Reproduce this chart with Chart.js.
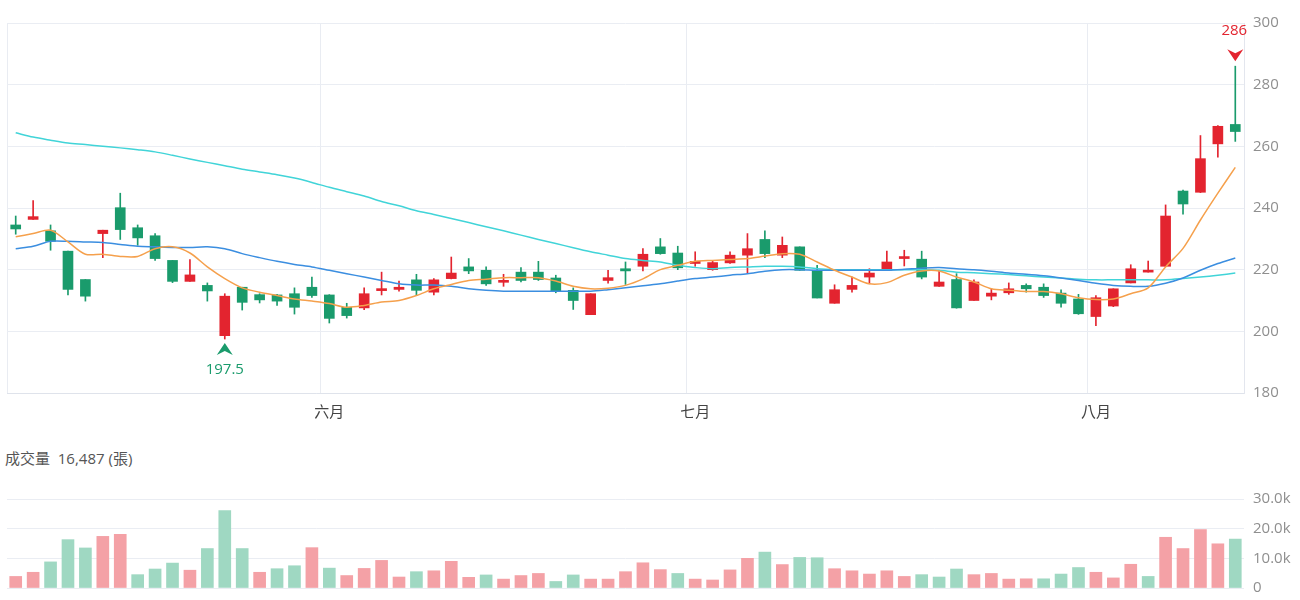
<!DOCTYPE html>
<html><head><meta charset="utf-8">
<script src="https://cdn.jsdelivr.net/npm/chart.js@4.4.1/dist/chart.umd.min.js"></script>
<style>
html,body{margin:0;padding:0;background:#fff;width:1300px;height:600px;overflow:hidden;}
#wrap{position:relative;width:1300px;height:600px;overflow:hidden;}
#c1{position:absolute;left:0;top:0;}
#c2{position:absolute;left:0;top:440px;}
#volTitle{position:absolute;left:5px;top:447px;font:15px "Open Sans","Noto Sans CJK TC",sans-serif;color:#555;white-space:pre;}
</style></head>
<body><div id="wrap"><canvas id="c1" width="1300" height="430"></canvas><div id="volTitle"></div><canvas id="c2" width="1300" height="166"></canvas></div>
<script>
const dates = ['05/08','05/09','05/10','05/11','05/12','05/15','05/16','05/17','05/18','05/19','05/22','05/23','05/24','05/25','05/26','05/29','05/30','05/31',
'06/01','06/02','06/05','06/06','06/07','06/08','06/09','06/12','06/13','06/14','06/15','06/16','06/19','06/20','06/21','06/22','06/26','06/27','06/28','06/29','06/30',
'07/01','07/02','07/03','07/04','07/05','07/08','07/09','07/10','07/11','07/12','07/15','07/16','07/17','07/18','07/19','07/22','07/23','07/24','07/25','07/26','07/29','07/30','07/31',
'08/01','08/02','08/05','08/06','08/07','08/08','08/09','08/12','08/13'];
const monthNames = {'05':'五月','06':'六月','07':'七月','08':'八月'};
const opens = [234.5,236.3,232.6,226.0,216.8,231.7,240.1,233.6,231.0,223.0,
216.2,214.9,198.6,214.3,211.9,211.8,212.2,214.3,211.8,207.8,
207.6,213.2,213.6,216.7,212.7,217.1,220.9,219.8,215.9,219.2,
219.2,217.3,213.3,205.4,216.5,220.3,221.1,227.4,225.4,222.0,
220.0,222.2,224.7,229.8,224.7,227.4,219.8,209.1,213.6,217.6,
219.8,223.6,223.4,214.6,216.8,210.0,211.4,212.5,214.9,214.3,
212.4,210.5,204.8,208.2,215.7,219.2,221.1,245.5,245.1,260.8,267.1];
const highs = [237.4,242.4,234.5,226.0,216.8,232.8,244.8,234.5,231.7,223.0,
223.3,215.7,212.2,214.3,212.2,212.0,214.1,217.6,211.9,209.1,
214.1,219.2,216.3,218.5,217.1,224.1,223.6,220.9,218.5,220.7,
222.7,218.2,214.1,212.2,219.8,222.5,226.8,230.1,227.6,225.8,
223.0,225.8,231.7,232.6,230.6,227.4,221.4,215.1,217.6,220.3,
226.0,226.3,226.0,219.6,218.7,216.7,213.8,215.7,215.4,215.4,
213.5,212.0,211.6,213.8,221.6,222.8,241.0,245.8,263.5,266.7,286];
const lows = [231.5,236.3,226.3,211.8,209.8,223.9,229.8,227.9,223.0,215.8,
216.2,209.8,197.5,206.9,209.2,208.4,205.6,211.0,202.7,204.3,
207.0,211.8,213.0,211.6,211.8,217.0,218.7,214.9,214.6,216.0,
216.5,212.5,207.1,205.4,215.6,215.2,219.6,225.0,220.0,221.1,
219.8,222.0,218.9,223.9,223.9,219.8,210.8,209.1,212.7,215.4,
219.8,221.2,217.0,214.6,207.5,210.0,210.2,212.0,212.7,211.0,
207.8,205.5,201.8,208.0,215.7,219.2,221.0,238.0,245.0,256.5,261.6];
const closes = [233.2,237.2,229.2,213.6,211.4,232.8,233.0,230.3,223.6,216.2,
218.3,213.1,211.4,209.4,210.2,209.8,207.8,211.6,204.2,205.1,
212.2,213.8,214.3,213.3,216.7,218.9,219.6,215.4,216.5,216.5,
216.8,212.9,210.0,212.2,217.4,219.6,225.0,225.2,220.6,222.7,
222.3,224.7,226.8,225.2,227.9,219.8,210.8,213.5,214.9,218.9,
222.5,223.9,217.6,216.0,207.6,216.0,212.4,213.8,213.8,211.6,
209.1,205.7,210.9,213.8,220.3,219.7,237.4,241.3,256.0,266.5,264.8];
const ma5 = [230.7,231.7,232.8,229.0,225.0,225.0,224.3,224.3,226.8,227.4,
225.4,220.9,217.1,214.1,212.7,211.6,210.5,209.8,209.0,207.8,
208.4,209.5,210.0,211.6,213.8,215.2,216.5,216.9,217.4,217.4,
217.4,216.3,214.6,213.8,214.0,214.9,217.0,220.0,221.4,222.7,
223.0,223.3,223.6,224.4,225.2,225.0,222.5,219.8,217.6,215.4,
215.8,218.2,219.6,219.6,217.6,216.0,213.8,213.3,212.9,212.9,
212.2,210.9,210.3,210.5,212.2,214.1,220.9,226.9,236.1,244.8,253.2];
const ma20 = [226.8,227.6,229.2,229.2,229.0,228.8,228.2,227.6,227.4,227.2,
227.2,227.4,226.8,225.2,223.9,222.7,221.7,220.9,219.8,218.7,
217.6,216.5,215.4,215.0,215.0,214.6,213.8,213.3,213.0,213.0,
213.0,213.0,213.0,213.0,213.5,214.1,214.8,215.4,216.3,217.1,
217.6,218.2,218.7,219.5,220.0,220.0,219.8,219.8,219.8,219.8,
219.8,220.1,220.5,220.7,220.3,220.0,219.5,218.9,218.5,218.0,
217.3,216.5,215.6,214.9,214.6,214.6,215.6,217.3,219.8,222.0,223.8];
const ma60 = [264.4,263.0,262.0,261.1,260.6,260.0,259.5,258.9,258.2,257.1,
255.9,254.8,253.7,252.6,251.7,250.8,249.7,248.3,246.7,245.3,
243.9,242.1,240.7,239.1,237.9,236.6,235.3,233.9,232.6,231.2,
229.8,228.5,227.1,225.8,224.7,223.6,223.0,222.5,221.4,220.7,
220.3,220.7,220.9,221.1,221.1,220.9,220.3,220.0,220.0,220.0,
220.0,220.0,220.0,219.8,219.2,219.0,218.7,218.4,218.0,217.6,
217.3,216.9,216.7,216.7,216.7,216.7,216.7,217.1,217.6,218.2,218.9];
const volumes = [3900,5300,8800,16300,13500,17400,18100,4500,6400,8400,
6000,13300,26100,13300,5300,6500,7500,13600,6700,4200,
6600,9300,3700,5500,5800,9000,3600,4400,3000,4200,
4900,2200,4400,3000,3000,5500,8500,6200,4900,3000,
2700,6100,10000,12100,7900,10300,10200,6500,5800,4700,
5800,3900,4500,3700,6400,4500,4900,3000,3100,3100,
4700,6900,5300,3400,8000,3900,17100,13300,19700,14900,16487];
const volumeUp = [1,1,0,0,0,1,1,0,0,0,
1,0,0,0,1,0,0,1,0,1,
1,1,1,0,1,1,1,0,1,1,
1,0,0,1,1,1,1,1,0,1,
1,1,1,0,1,0,0,1,1,1,
1,1,0,0,0,1,1,1,1,0,
0,0,1,1,1,0,1,1,1,1,0];
const priceTicks = {min:180, max:300, step:20};
const volumeTicks = {min:0, max:30000, step:10000};

const RED = '#e3242f', GREEN = '#1a9b6c';
const VRED = '#f4a1a6', VGREEN = '#9fd8c2';
const FONT = '"Open Sans","Noto Sans CJK TC",sans-serif';
const GRID = '#eaedf3';

const monthStart = dates.map((d,i)=> i>0 && d.slice(0,2)!==dates[i-1].slice(0,2));
const candleColors = dates.map((d,i)=> closes[i] >= opens[i] ? RED : GREEN);

function arrowPath(ctx, x, tipY, dir){ // dir 1: pointing down, -1: pointing up
  const h = 12, w = 8, notch = 4;
  ctx.beginPath();
  ctx.moveTo(x, tipY);
  ctx.lineTo(x - w, tipY - dir*h);
  ctx.lineTo(x, tipY - dir*(h - notch));
  ctx.lineTo(x + w, tipY - dir*h);
  ctx.closePath();
  ctx.fill();
}

const extremePlugin = {
  id: 'extremes',
  afterDatasetsDraw(chart){
    const ctx = chart.ctx, xs = chart.scales.x, ys = chart.scales.y;
    let hi = 0, lo = 0;
    highs.forEach((v,i)=>{ if (v > highs[hi]) hi = i; });
    lows.forEach((v,i)=>{ if (v < lows[lo]) lo = i; });
    ctx.save();
    ctx.font = '15px ' + FONT;
    ctx.textAlign = 'center';
    ctx.textBaseline = 'middle';
    let x = xs.getPixelForValue(hi), y = ys.getPixelForValue(highs[hi]);
    ctx.fillStyle = RED;
    arrowPath(ctx, x, y - 5, 1);
    ctx.fillText(String(highs[hi]), x - 1, y - 35);
    x = xs.getPixelForValue(lo); y = ys.getPixelForValue(lows[lo]);
    ctx.fillStyle = GREEN;
    arrowPath(ctx, x, y + 4, -1);
    ctx.fillText(String(lows[lo]), x, y + 31);
    ctx.restore();
  }
};

new Chart(document.getElementById('c1'), {
  data: {
    labels: dates,
    datasets: [
      {type:'line', label:'MA5', data: ma5, borderColor:'#f5a04c', borderWidth:1.5, pointRadius:0, tension:0.3, order:0},
      {type:'line', label:'MA20', data: ma20, borderColor:'#3b8ee0', borderWidth:1.5, pointRadius:0, tension:0.3, order:0},
      {type:'line', label:'MA60', data: ma60, borderColor:'#41d4d8', borderWidth:1.5, pointRadius:0, tension:0.3, order:0},
      {type:'bar', label:'wick', data: dates.map((d,i)=>[lows[i], highs[i]]), backgroundColor: candleColors, barThickness:1, grouped:false, order:2},
      {type:'bar', label:'body', data: dates.map((d,i)=>[opens[i], closes[i]]), backgroundColor: candleColors, barThickness:10, minBarLength:2, grouped:false, order:1}
    ]
  },
  options: {
    responsive:false, animation:false, devicePixelRatio:1,
    layout:{padding:{top:23, left:7, right:0, bottom:0}},
    plugins:{legend:{display:false}, tooltip:{enabled:false}},
    scales:{
      x:{
        type:'category', offset:true,
        grid:{offset:true, drawTicks:false,
          color:(c)=> (c.index===0 || monthStart[c.index]) ? '#e9ecf2' : 'rgba(0,0,0,0)', lineWidth:1},
        border:{display:true, color:'#dfe3eb'},
        ticks:{autoSkip:false, maxRotation:0, minRotation:0, padding:11, color:'#444', font:{size:15, family:FONT},
          callback:(v,i)=> monthStart[i] ? monthNames[dates[i].slice(0,2)] : ''},
        afterFit:(s)=>{ s.height = 37; }
      },
      y:{
        position:'right', min:priceTicks.min, max:priceTicks.max,
        grid:{color:GRID, drawTicks:false},
        border:{display:true, color:'#e3e6ee'},
        ticks:{stepSize:priceTicks.step, padding:9, color:'#8f8f8f', font:{size:15, family:FONT}},
        afterFit:(s)=>{ s.width = 56; }
      }
    }
  },
  plugins:[extremePlugin]
});

document.getElementById('volTitle').innerHTML = '成交量  ' + volumes[volumes.length-1].toLocaleString('en-US') + ' (張)';

new Chart(document.getElementById('c2'), {
  type:'bar',
  data:{
    labels: dates,
    datasets:[{label:'成交量', data: volumes, backgroundColor: volumeUp.map(u=> u ? VRED : VGREEN), barThickness:12}]
  },
  options:{
    responsive:false, animation:false, devicePixelRatio:1,
    layout:{padding:{top:59, left:7, right:0, bottom:0}},
    plugins:{legend:{display:false}, tooltip:{enabled:false}},
    scales:{
      x:{type:'category', offset:true, display:false},
      y:{
        position:'right', min:volumeTicks.min, max:volumeTicks.max,
        grid:{color:GRID, drawTicks:false},
        border:{display:false},
        ticks:{stepSize:volumeTicks.step, padding:9, color:'#8f8f8f', font:{size:15, family:FONT},
          callback:(v)=> v===0 ? '0' : (v/1000).toFixed(1)+'k'},
        afterFit:(s)=>{ s.width = 56; }
      }
    }
  }
});
</script>
</body></html>
